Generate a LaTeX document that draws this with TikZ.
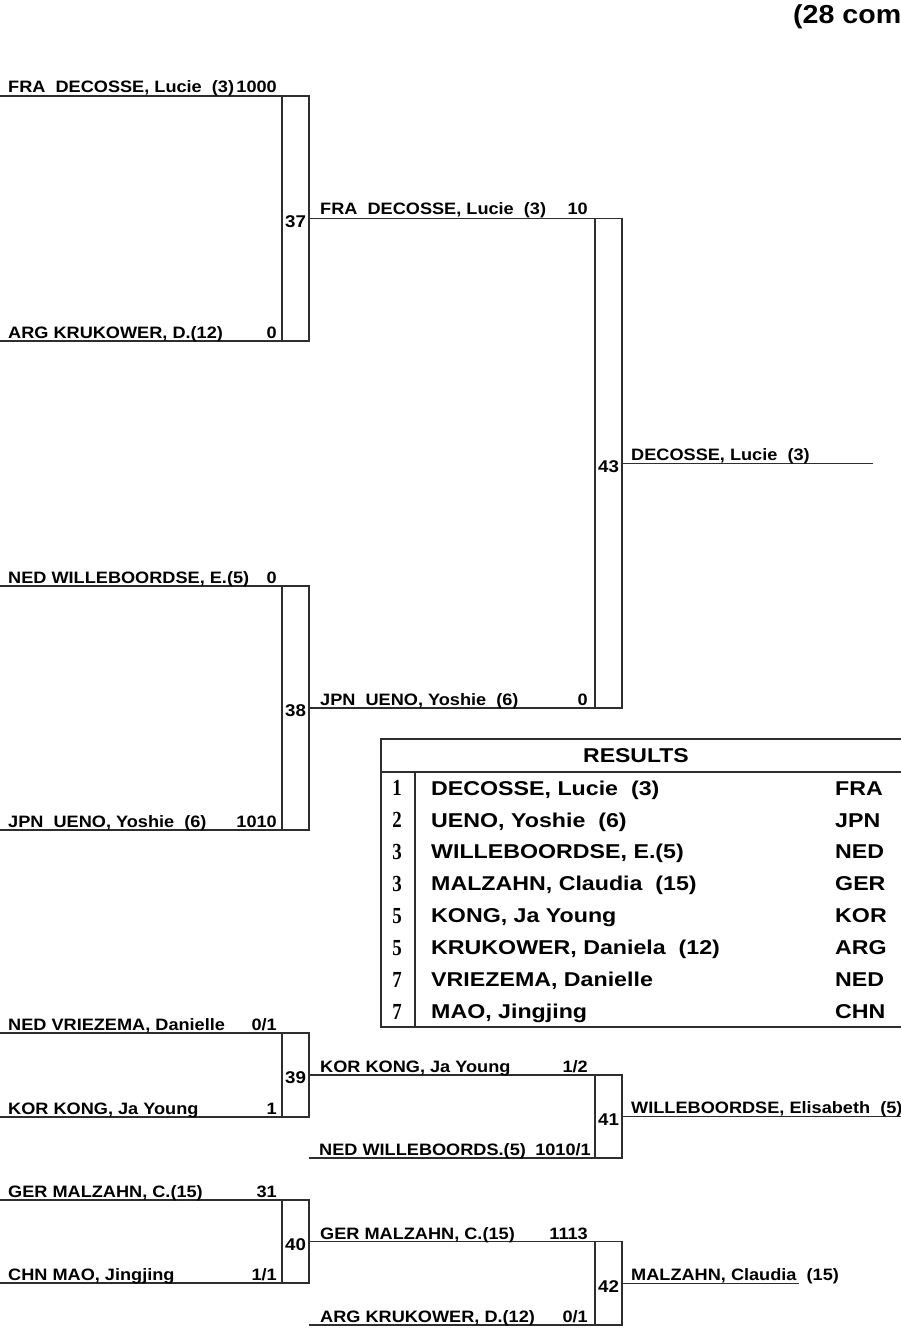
\documentclass[tikz,border=0pt]{standalone}
\usepackage{fontspec}
\newfontfamily\lbl{Liberation Sans}[FakeStretch=1.10]
\newfontfamily\tlb{Liberation Sans}[FakeStretch=1.16]
\newfontfamily\snum{Liberation Serif}[FakeStretch=0.82]
\newfontfamily\hdr{Liberation Sans}[FakeStretch=1.15]
\newcommand{\dsp}{~~}
\colorlet{lc}{black!82}
\tikzset{
  mbox/.style={draw=lc, line width=1.1pt, minimum width=27pt, inner sep=0pt, outer sep=0pt},
  br/.style={draw=lc, line width=1.1pt},
  nm/.style={anchor=base west, inner sep=0pt, font=\lbl\bfseries\fontsize{16.5}{16.5}\selectfont},
  sc/.style={anchor=base east, inner sep=0pt, font=\lbl\bfseries\fontsize{16.5}{16.5}\selectfont},
  mnum/.style={anchor=center, inner sep=0pt, font=\lbl\bfseries\fontsize{17}{17}\selectfont},
  tnm/.style={anchor=base west, inner sep=0pt, font=\tlb\bfseries\fontsize{20}{20}\selectfont},
  tnum/.style={anchor=base, inner sep=0pt, font=\snum\bfseries\fontsize{23}{23}\selectfont},
  thead/.style={anchor=center, inner sep=0pt, font=\hdr\bfseries\fontsize{20}{20}\selectfont},
  ttl/.style={anchor=base west, inner sep=0pt, font=\lbl\bfseries\fontsize{26}{26}\selectfont}
}
\begin{document}
\begin{tikzpicture}[x=1pt,y=-1pt]
\useasboundingbox (0,0) rectangle (900,1329);

% title
\node[ttl] (title) at (793,24) {(28 com};

% match boxes
\node[mbox, minimum height=245pt] (m37) at (295.5,218.5) {};
\node[mbox, minimum height=244pt] (m38) at (295.5,708) {};
\node[mbox, minimum height=489.5pt] (m43) at (608.5,463.25) {};
\node[mbox, minimum height=84pt] (m39) at (295.5,1075) {};
\node[mbox, minimum height=83pt] (m41) at (608.5,1116.5) {};
\node[mbox, minimum height=83pt] (m40) at (295.5,1241.5) {};
\node[mbox, minimum height=83.5pt] (m42) at (608.5,1283.25) {};

% match numbers
\node[mnum] (k37) at ([yshift=-3pt]m37.center) {37};
\node[mnum] (k38) at ([yshift=-3pt]m38.center) {38};
\node[mnum] (k43) at ([yshift=-3pt]m43.center) {43};
\node[mnum] (k39) at ([yshift=-3pt]m39.center) {39};
\node[mnum] (k41) at ([yshift=-3pt]m41.center) {41};
\node[mnum] (k40) at ([yshift=-3pt]m40.center) {40};
\node[mnum] (k42) at ([yshift=-3pt]m42.center) {42};

% free ends
\coordinate (a1) at (0,96);
\coordinate (a2) at (0,341);
\coordinate (a3) at (0,586);
\coordinate (a4) at (0,830);
\coordinate (a5) at (0,1033);
\coordinate (a6) at (0,1117);
\coordinate (a7) at (0,1200);
\coordinate (a8) at (0,1283);
\coordinate (b4) at (309,1158);
\coordinate (b6) at (309,1325);
\coordinate (w43) at (873,463.25);
\coordinate (w41) at (910,1116.5);
\coordinate (w42) at (799,1283.25);

% connectors
\draw[br] (a1) -- (m37.north west);
\draw[br] (a2) -- (m37.south west);
\draw[br] (a3) -- (m38.north west);
\draw[br] (a4) -- (m38.south west);
\draw[br] (m37.east) -- (m43.north west);
\draw[br] (m38.east) -- (m43.south west);
\draw[br] (m43.east) -- (w43);
\draw[br] (a5) -- (m39.north west);
\draw[br] (a6) -- (m39.south west);
\draw[br] (m39.east) -- (m41.north west);
\draw[br] (b4) -- (m41.south west);
\draw[br] (m41.east) -- (w41);
\draw[br] (a7) -- (m40.north west);
\draw[br] (a8) -- (m40.south west);
\draw[br] (m40.east) -- (m42.north west);
\draw[br] (b6) -- (m42.south west);
\draw[br] (m42.east) -- (w42);

% round 1 labels
\node[nm] (n1) at (8,93) {FRA\dsp DECOSSE, Lucie\dsp (3)};
\node[sc] (s1) at (277,93) {1000};
\node[nm] (n2) at (8,338) {ARG KRUKOWER, D.(12)};
\node[sc] (s2) at (277,338) {0};
\node[nm] (n3) at (8,583) {NED WILLEBOORDSE, E.(5)};
\node[sc] (s3) at (277,583) {0};
\node[nm] (n4) at (8,827) {JPN\dsp UENO, Yoshie\dsp (6)};
\node[sc] (s4) at (277,827) {1010};
\node[nm] (n5) at (8,1030) {NED VRIEZEMA, Danielle};
\node[sc] (s5) at (277,1030) {0/1};
\node[nm] (n6) at (8,1114) {KOR KONG, Ja Young};
\node[sc] (s6) at (277,1114) {1};
\node[nm] (n7) at (8,1197) {GER MALZAHN, C.(15)};
\node[sc] (s7) at (277,1197) {31};
\node[nm] (n8) at (8,1280) {CHN MAO, Jingjing};
\node[sc] (s8) at (277,1280) {1/1};

% round 2 labels
\node[nm] (r1) at (320,215) {FRA\dsp DECOSSE, Lucie\dsp (3)};
\node[sc] (t1) at (588,215) {10};
\node[nm] (r2) at (320,705) {JPN\dsp UENO, Yoshie\dsp (6)};
\node[sc] (t2) at (588,705) {0};
\node[nm] (r3) at (320,1072) {KOR KONG, Ja Young};
\node[sc] (t3) at (588,1072) {1/2};
\node[nm] (r4) at (319,1155) {NED WILLEBOORDS.(5)};
\node[sc] (t4) at (591,1155) {1010/1};
\node[nm] (r5) at (320,1239) {GER MALZAHN, C.(15)};
\node[sc] (t5) at (588,1239) {1113};
\node[nm] (r6) at (320,1322) {ARG KRUKOWER, D.(12)};
\node[sc] (t6) at (588,1322) {0/1};

% round 3 labels
\node[nm] (f1) at (631,460) {DECOSSE, Lucie\dsp (3)};
\node[nm] (f2) at (631,1113) {WILLEBOORDSE, Elisabeth\dsp (5)};
\node[nm] (f3) at (631,1280) {MALZAHN, Claudia\dsp (15)};

% results table
\draw[br] (381,739) rectangle (910,1027);
\draw[br] (381,772) -- (910,772);
\draw[br] (415,772) -- (415,1027);
\node[thead] (head) at (636,756) {RESULTS};

\foreach \i/\p/\n/\c in {1/1/{DECOSSE, Lucie\dsp (3)}/FRA,
                         2/2/{UENO, Yoshie\dsp (6)}/JPN,
                         3/3/{WILLEBOORDSE, E.(5)}/NED,
                         4/3/{MALZAHN, Claudia\dsp (15)}/GER,
                         5/5/{KONG, Ja Young}/KOR,
                         6/5/{KRUKOWER, Daniela\dsp (12)}/ARG,
                         7/7/{VRIEZEMA, Danielle}/NED,
                         8/7/{MAO, Jingjing}/CHN}{
  \pgfmathsetmacro{\yy}{772+31.9*(\i-0.5)}
  \node[tnum] (p\i) at (397,\yy+8) {\p};
  \node[tnm] (q\i) at (431,\yy+7.2) {\n};
  \node[tnm] (c\i) at (835,\yy+7.2) {\c};
}
\end{tikzpicture}
\end{document}
